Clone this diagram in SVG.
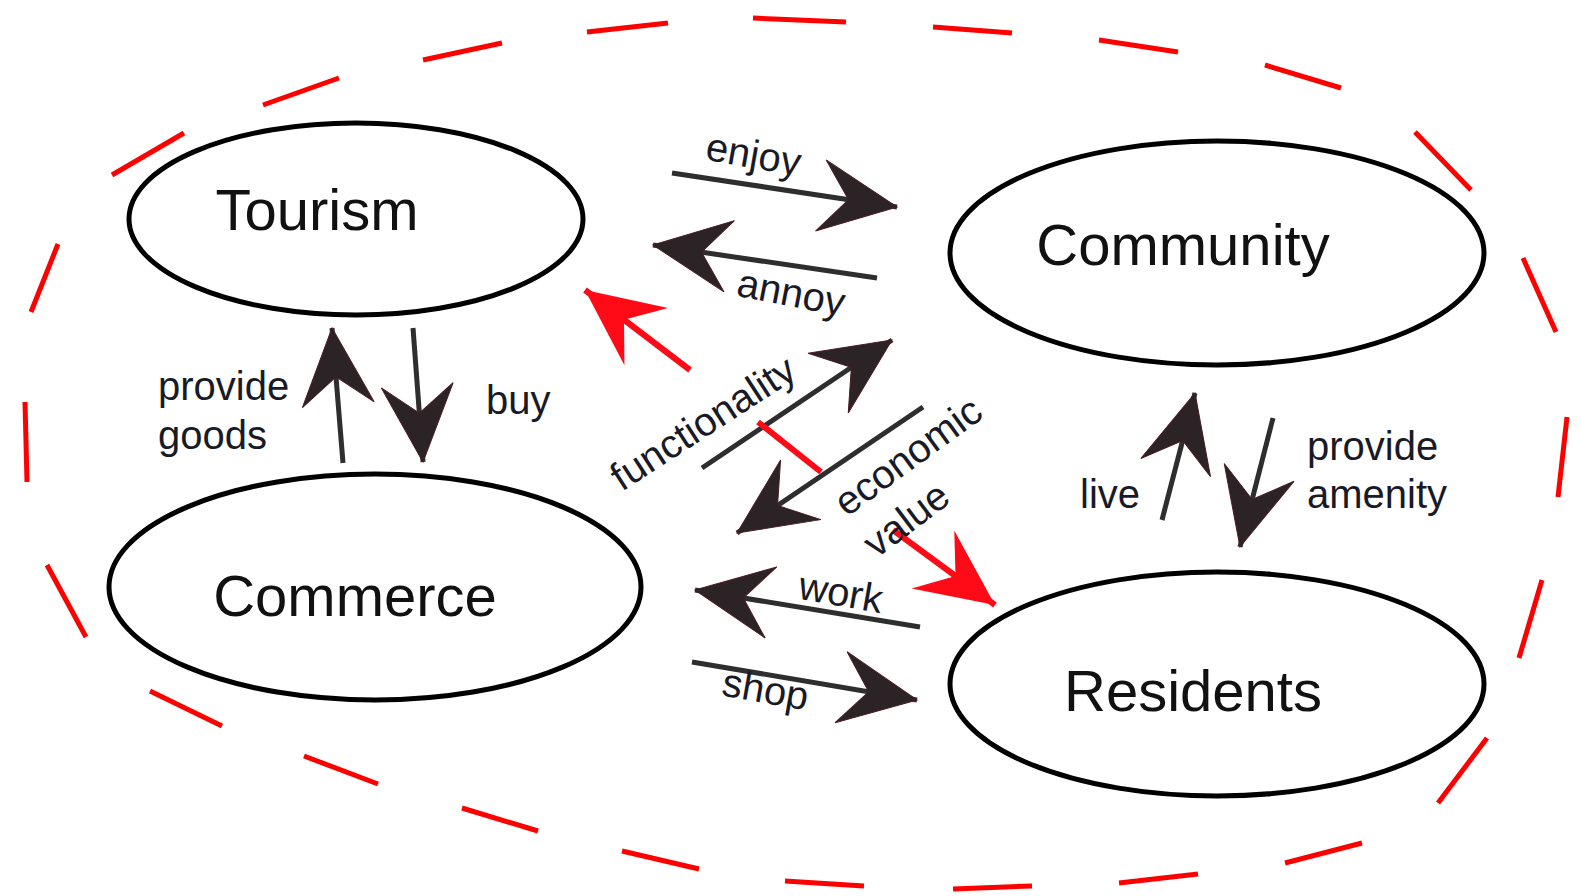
<svg xmlns="http://www.w3.org/2000/svg" width="1581" height="896" viewBox="0 0 1581 896">
<style>
.node ellipse{fill:#fff;stroke:#000;stroke-width:5}
.node text{font-family:"Liberation Sans",Arial,sans-serif;font-size:58px;text-anchor:middle;fill:#111}
.lbl{font-family:"Liberation Sans",Arial,sans-serif;font-size:40px;fill:#1a1a26}
.mid{text-anchor:middle}
.conn{stroke:#2e2e2e;stroke-width:5;fill:none;marker-end:url(#ah)}
.red{stroke:#ff0a16;stroke-width:6;fill:none}
.redarrow{marker-end:url(#ahr)}
.boundary{stroke:#ff0000;stroke-width:5;fill:none;stroke-linecap:butt}
</style>
<defs>
<marker id="ah" markerUnits="userSpaceOnUse" markerWidth="82" markerHeight="80" viewBox="-80 -40 82 80" refX="0" refY="0" orient="auto">
<path d="M0,0 L-77,-36 L-49,0 L-77,36 Z" fill="#2b2326" stroke="#4a1c24" stroke-width="1"/>
</marker>
<marker id="ahr" markerUnits="userSpaceOnUse" markerWidth="82" markerHeight="80" viewBox="-80 -40 82 80" refX="0" refY="0" orient="auto">
<path d="M0,0 L-77,-36 L-49,0 L-77,36 Z" fill="#ff0a16"/>
</marker>
</defs>
<rect width="1581" height="896" fill="#fff"/>
<path class="boundary" d="M31,312 L58,244 M112,175 L184,133 M263,105 L339,78 M423,60 L502,43 M587,32 L668,23 M753,18 L846,22 M933,27 L1012,33 M1099,40 L1178,52 M1265,65 L1341,88 M1415,132 L1471,190 M1523,258 L1556,332 M1567,417 L1558,497 M1542,580 L1519,658 M1487,738 L1438,803 M1362,843 L1285,863 M1198,874 L1119,883 M1032,886 L953,889 M864,886 L785,881 M699,869 L622,851 M538,831 L462,808 M378,784 L304,756 M222,726 L150,691 M86,637 L47,565 M27,482 L25,402"/>
<g id="tourism" class="node">
<ellipse cx="356" cy="219" rx="227" ry="96"/>
<text x="317" y="230">Tourism</text>
</g>
<g id="community" class="node">
<ellipse cx="1217" cy="253" rx="267" ry="112"/>
<text x="1183" y="265">Community</text>
</g>
<g id="commerce" class="node">
<ellipse cx="375" cy="587" rx="266" ry="113"/>
<text x="355" y="616">Commerce</text>
</g>
<g id="residents" class="node">
<ellipse cx="1217" cy="684" rx="267" ry="112"/>
<text x="1193" y="711">Residents</text>
</g>
<g id="connectors">
<line class="conn" x1="672" y1="173" x2="897" y2="207"/>
<line class="conn" x1="877" y1="278" x2="653" y2="245"/>
<line class="conn" x1="702" y1="468" x2="892" y2="340"/>
<line class="conn" x1="923" y1="407" x2="737" y2="533"/>
<line class="conn" x1="920" y1="627" x2="695" y2="590"/>
<line class="conn" x1="692" y1="662" x2="917" y2="700"/>
<line class="conn" x1="343" y1="463" x2="332" y2="328"/>
<line class="conn" x1="413" y1="328" x2="423" y2="462"/>
<line class="conn" x1="1162" y1="520" x2="1195" y2="393"/>
<line class="conn" x1="1273" y1="418" x2="1240" y2="547"/>
<line class="red redarrow" x1="690" y1="370" x2="585" y2="290"/>
<line class="red" x1="758" y1="422" x2="821" y2="472"/>
<line class="red redarrow" x1="893" y1="530" x2="995" y2="605"/>
</g>
<g id="labels">
<g transform="translate(753,158) rotate(10)"><text class="lbl mid" x="0" y="10">enjoy</text></g>
<g transform="translate(790,299) rotate(11)"><text class="lbl mid" x="0" y="7">annoy</text></g>
<g transform="translate(705,426) rotate(-33)"><text class="lbl mid" x="0" y="10">functionality</text></g>
<g transform="translate(910,459) rotate(-36)"><text class="lbl mid" x="0" y="10">economic</text></g>
<g transform="translate(906,519) rotate(-37)"><text class="lbl mid" x="0" y="14">value</text></g>
<g transform="translate(841,592) rotate(10)"><text class="lbl mid" x="0" y="14">work</text></g>
<g transform="translate(765,693) rotate(10)"><text class="lbl mid" x="0" y="10">shop</text></g>
<text class="lbl" x="158" y="400">provide</text>
<text class="lbl" x="158" y="449">goods</text>
<text class="lbl" x="486" y="414">buy</text>
<text class="lbl" x="1080" y="508">live</text>
<text class="lbl" x="1307" y="460">provide</text>
<text class="lbl" x="1307" y="508">amenity</text>
</g>
</svg>
